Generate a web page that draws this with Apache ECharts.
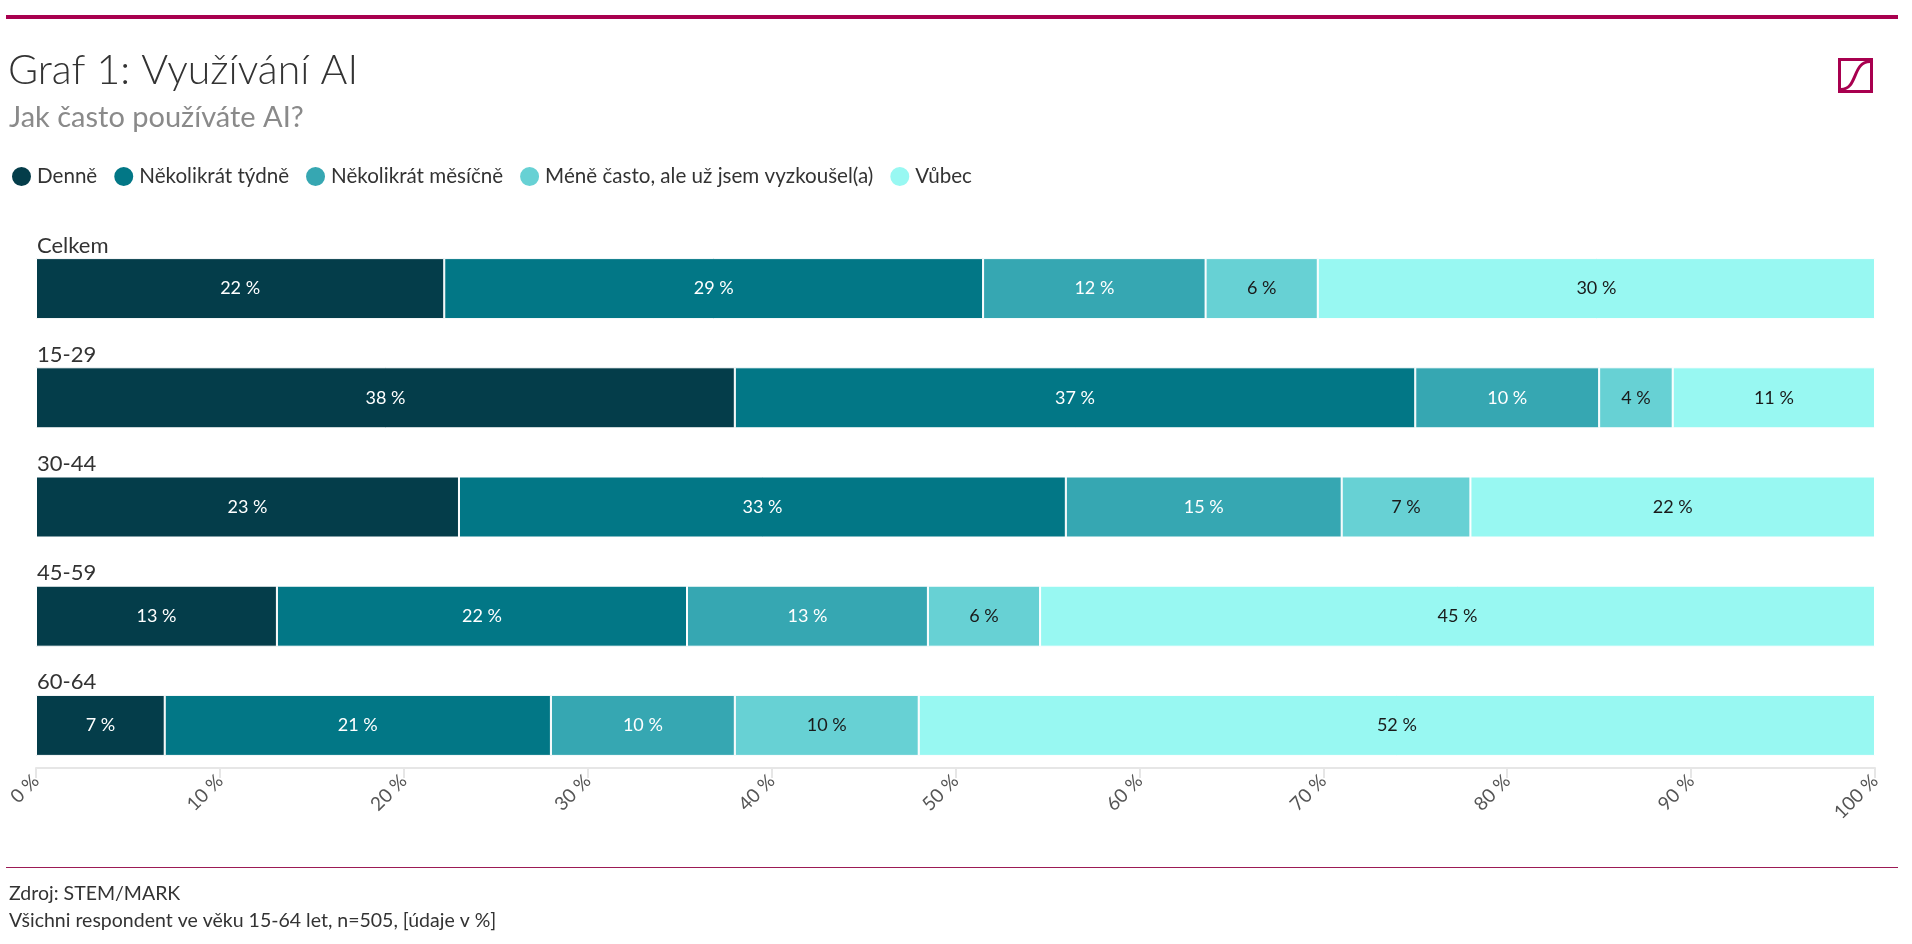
<!DOCTYPE html>
<html><head><meta charset="utf-8">
<script src="https://cdn.jsdelivr.net/npm/echarts@6/dist/echarts.min.js"></script>
<style>html,body{margin:0;padding:0;background:#fff}#c{width:1912px;height:944px}</style>
</head><body><div id="c"></div>
<script>
const categories = ['Celkem', '15-29', '30-44', '45-59', '60-64'];
const seriesNames = ['Denně', 'Několikrát týdně', 'Několikrát měsíčně', 'Méně často, ale už jsem vyzkoušel(a)', 'Vůbec'];
const denne   = [22.2, 38, 23, 13.1, 7];
const tydne   = [29.3, 37, 33, 22.3, 21];
const mesicne = [12.1, 10, 15, 13.1, 10];
const mene    = [6.1, 4, 7, 6.1, 10];
const vubec   = [30.3, 11, 22, 45.4, 52];
const xTicks = [0, 10, 20, 30, 40, 50, 60, 70, 80, 90, 100];

const colors = ['#043d4a', '#027786', '#36a7b2', '#67d1d4', '#98f8f2'];
const labelColors = ['#ffffff', '#ffffff', '#ffffff', '#1a1a1a', '#1a1a1a'];
const FONT = 'Lato, "Noto Sans", sans-serif';

const chart = echarts.init(document.getElementById('c'), null, {renderer: 'canvas'});
const values = [denne, tydne, mesicne, mene, vubec];

const option = {
  animation: false,
  textStyle: {fontFamily: FONT},
  title: [
    {text: 'Graf 1: Využívání AI', left: 3, top: 45,
     textStyle: {fontSize: 41, fontWeight: 300, color: '#333333', fontFamily: FONT}},
    {text: 'Jak často používáte AI?', left: 4, top: 98,
     textStyle: {fontSize: 29, fontWeight: 400, color: '#8a8a8a', fontFamily: FONT}},
    {text: 'Zdroj: STEM/MARK', left: 4, top: 879,
     textStyle: {fontSize: 19.5, fontWeight: 400, color: '#333333', fontFamily: FONT}},
    {text: 'Všichni respondent ve věku 15-64 let, n=505, [údaje v %]', left: 4, top: 906,
     textStyle: {fontSize: 19.5, fontWeight: 400, color: '#333333', fontFamily: FONT}}
  ],
  legend: {
    left: 5, top: 160, icon: 'circle', itemWidth: 21, itemHeight: 21, itemGap: 15,
    textStyle: {fontSize: 20.6, color: '#333333', fontFamily: FONT},
    data: seriesNames
  },
  grid: {left: 36, right: 37, top: 234, height: 546, containLabel: false},
  xAxis: {
    type: 'value', min: 0, max: 100, interval: 10, offset: -12,
    axisLine: {show: true, lineStyle: {color: '#e6e6e6', width: 2}},
    axisTick: {show: true, length: 10, lineStyle: {color: '#e6e6e6', width: 2}},
    splitLine: {show: false},
    axisLabel: {rotate: 45, formatter: v => xTicks.includes(v) ? v + ' %' : '', fontSize: 19, color: '#555555', margin: 10, fontFamily: FONT}
  },
  yAxis: {
    type: 'category', data: categories, inverse: true,
    axisLine: {show: false}, axisTick: {show: false},
    axisLabel: {inside: true, margin: 0, align: 'left', verticalAlign: 'bottom',
      padding: [0, 0, 32, 1], fontSize: 22, color: '#333333', fontFamily: FONT}
  },
  series: seriesNames.map((name, i) => ({
    name: name, type: 'bar', stack: 'total', barWidth: 61,
    data: values[i],
    itemStyle: {color: colors[i], borderColor: '#ffffff', borderWidth: 1},
    label: {show: true, position: 'inside', formatter: p => Math.round(p.value) + ' %',
      fontSize: 18, color: labelColors[i], fontFamily: FONT}
  })),
  graphic: [
    {type: 'rect', shape: {x: 6, y: 15, width: 1892, height: 4}, style: {fill: '#a8004f'}},
    {type: 'rect', shape: {x: 6, y: 867, width: 1892, height: 1}, style: {fill: '#9c1a55'}},
    {type: 'rect', shape: {x: 1839.5, y: 59.5, width: 32, height: 32}, style: {fill: 'none', stroke: '#a8004f', lineWidth: 3}},
    {type: 'bezierCurve', shape: {x1: 1841, y1: 89.5, cpx1: 1858, cpy1: 89, cpx2: 1852, cpy2: 62, x2: 1870, y2: 61.5},
     style: {fill: 'none', stroke: '#a8004f', lineWidth: 3}}
  ]
};
chart.setOption(option);
</script>
</body></html>
